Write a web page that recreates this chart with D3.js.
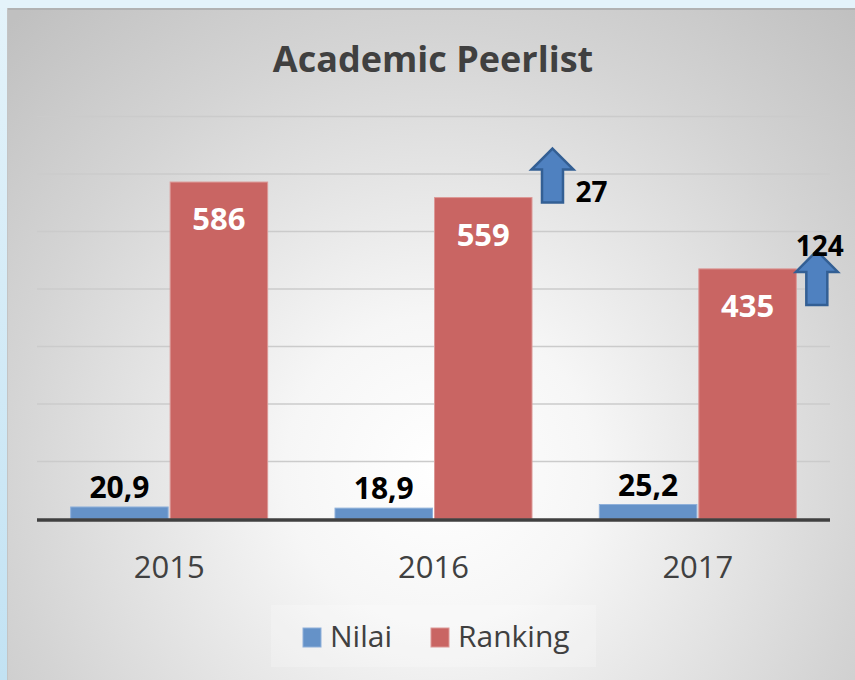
<!DOCTYPE html>
<html>
<head>
<meta charset="utf-8">
<script src="https://cdn.jsdelivr.net/npm/d3@7"></script>
<style>
  html, body { margin: 0; padding: 0; background: #e2f2fa; }
  svg { display: block; }
</style>
</head>
<body>
<svg id="chart" width="855" height="680"></svg>
<script>
// ---- data ----
const title = "Academic Peerlist";
const categories = ["2015", "2016", "2017"];
const seriesNames = ["Nilai", "Ranking"];
const nilaiValues = [20.9, 18.9, 25.2];
const nilaiLabels = ["20,9", "18,9", "25,2"];
const rankingValues = [586, 559, 435];
const yTicks = [0, 100, 200, 300, 400, 500, 600, 700];
// improvement annotations (arrow next to the Ranking bar of that year)
const arrowYears = ["2016", "2017"];
const arrowValues = [27, 124];

// ---- layout ----
const W = 855, H = 680;
const svg = d3.select("#chart");
const defs = svg.append("defs");

const bgGrad = defs.append("linearGradient").attr("id", "outer").attr("x1", 0).attr("x2", 0).attr("y1", 0).attr("y2", 1);
bgGrad.append("stop").attr("offset", "0%").attr("stop-color", "#e4f3fa");
bgGrad.append("stop").attr("offset", "100%").attr("stop-color", "#c2e2f3");
svg.append("rect").attr("width", W).attr("height", H).attr("fill", "url(#outer)");
svg.append("rect").attr("width", W).attr("height", 8).attr("fill", "#e4f3fa");

const rg = defs.append("radialGradient").attr("id", "panel")
  .attr("gradientUnits", "userSpaceOnUse")
  .attr("cx", 440).attr("cy", 470).attr("r", 620);
rg.append("stop").attr("offset", "0%").attr("stop-color", "#ffffff");
rg.append("stop").attr("offset", "25%").attr("stop-color", "#f6f6f6");
rg.append("stop").attr("offset", "70%").attr("stop-color", "#d4d4d4");
rg.append("stop").attr("offset", "100%").attr("stop-color", "#c0c0c0");

const panelX = 7, panelY = 8;
svg.append("rect").attr("x", panelX).attr("y", panelY).attr("width", W - panelX).attr("height", H - panelY)
  .attr("fill", "url(#panel)");
svg.append("line").attr("x1", panelX).attr("x2", W).attr("y1", panelY + 1).attr("y2", panelY + 1)
  .attr("stroke", "#b2b2b2").attr("stroke-width", 2);
svg.append("line").attr("x1", panelX + 0.5).attr("x2", panelX + 0.5).attr("y1", panelY).attr("y2", H)
  .attr("stroke", "#c4c4c4").attr("stroke-width", 1);

const font = "'Open Sans', 'Liberation Sans', sans-serif";

// title
svg.append("text").attr("x", 433).attr("y", 72).attr("text-anchor", "middle")
  .attr("font-family", font).attr("font-weight", 700).attr("font-size", 36)
  .attr("fill", "#404040").text(title);

const plot = { left: 37, right: 830, top: 116.5, bottom: 519 };

const x = d3.scaleBand().domain(categories).range([plot.left, plot.right])
  .paddingInner(0.251).paddingOuter(0.1255);
const xs = d3.scaleBand().domain(seriesNames).range([0, x.bandwidth()]).paddingInner(0.01);
const y = d3.scaleLinear().domain([0, 700]).range([plot.bottom, plot.top]);

// gridlines
svg.append("g").selectAll("line").data(yTicks.filter(d => d > 0)).join("line")
  .attr("x1", plot.left).attr("x2", plot.right)
  .attr("y1", d => y(d)).attr("y2", d => y(d))
  .attr("stroke", "#cbcbcb").attr("stroke-width", 1.5);

const colors = { Nilai: "#6592c8", Ranking: "#c96563" };
const strokes = { Nilai: "#8fb0da", Ranking: "#dc9896" };

const rows = categories.map((c, i) => ({ cat: c, Nilai: nilaiValues[i], Ranking: rankingValues[i], nl: nilaiLabels[i] }));

const groups = svg.append("g").selectAll("g").data(rows).join("g")
  .attr("transform", d => `translate(${x(d.cat)},0)`);

groups.selectAll("rect").data(d => seriesNames.map(s => ({ s, v: d[s] }))).join("rect")
  .attr("x", d => xs(d.s) + 0.5)
  .attr("width", xs.bandwidth() - 1)
  .attr("y", d => y(d.v))
  .attr("height", d => y(0) - y(d.v))
  .attr("fill", d => colors[d.s])
  .attr("stroke", d => strokes[d.s]).attr("stroke-width", 1);

// labels
groups.append("text")
  .attr("x", xs("Nilai") + xs.bandwidth() / 2)
  .attr("y", d => y(d.Nilai) - 9)
  .attr("text-anchor", "middle")
  .attr("font-family", font).attr("font-weight", 700).attr("font-size", 30)
  .attr("fill", "#000").text(d => d.nl);

groups.append("text")
  .attr("x", xs("Ranking") + xs.bandwidth() / 2)
  .attr("y", d => y(d.Ranking) + 48)
  .attr("text-anchor", "middle")
  .attr("font-family", font).attr("font-weight", 700).attr("font-size", 31)
  .attr("fill", "#ffffff").text(d => d.Ranking);

// baseline
svg.append("line").attr("x1", plot.left).attr("x2", plot.right)
  .attr("y1", y(0) + 1).attr("y2", y(0) + 1)
  .attr("stroke", "#404040").attr("stroke-width", 3.5);

// x axis labels
const xAxis = d3.axisBottom(x).tickSize(0).tickPadding(0);
const ax = svg.append("g").attr("transform", `translate(0,${y(0)})`).call(xAxis);
ax.select(".domain").remove();
ax.selectAll("text").attr("dy", null).attr("y", 59)
  .attr("font-family", font).attr("font-size", 31).attr("fill", "#404040");

// arrows
const arrowDrop = [5, 36];
arrowYears.forEach((yr, i) => {
  const idx = categories.indexOf(yr);
  const cx = x(yr) + xs("Ranking") + xs.bandwidth() + 20;
  const bottom = y(rankingValues[idx]) + arrowDrop[i];
  const top = bottom - 54;
  const hw = 21, sw = 10.5, hh = 21;
  const pts = [[cx, top], [cx + hw, top + hh], [cx + sw, top + hh], [cx + sw, bottom],
               [cx - sw, bottom], [cx - sw, top + hh], [cx - hw, top + hh]];
  svg.append("polygon").attr("points", pts.map(p => p.join(",")).join(" "))
    .attr("fill", "#4f81c0").attr("stroke", "#335f94").attr("stroke-width", 2.5)
    .attr("stroke-linejoin", "miter");
  const t = svg.append("text").attr("font-family", font).attr("font-weight", 700)
    .attr("font-size", 28).attr("fill", "#000").text(arrowValues[i]);
  if (i === 0) {
    t.attr("x", cx + hw + 2).attr("y", bottom - 1);
  } else {
    t.attr("x", cx + 3).attr("y", top + 5).attr("text-anchor", "middle");
  }
});

// legend
const lg = svg.append("g");
lg.append("rect").attr("x", 271).attr("y", 605).attr("width", 325).attr("height", 62)
  .attr("fill", "#ffffff").attr("opacity", 0.22);
const legendX = [303, 431];
seriesNames.forEach((s, i) => {
  lg.append("rect").attr("x", legendX[i]).attr("y", 628).attr("width", 18).attr("height", 19)
    .attr("fill", colors[s]).attr("stroke", strokes[s]).attr("stroke-width", 1);
  lg.append("text").attr("x", legendX[i] + 27).attr("y", 647)
    .attr("font-family", font).attr("font-size", 30).attr("fill", "#404040").text(s);
});
</script>
</body>
</html>
